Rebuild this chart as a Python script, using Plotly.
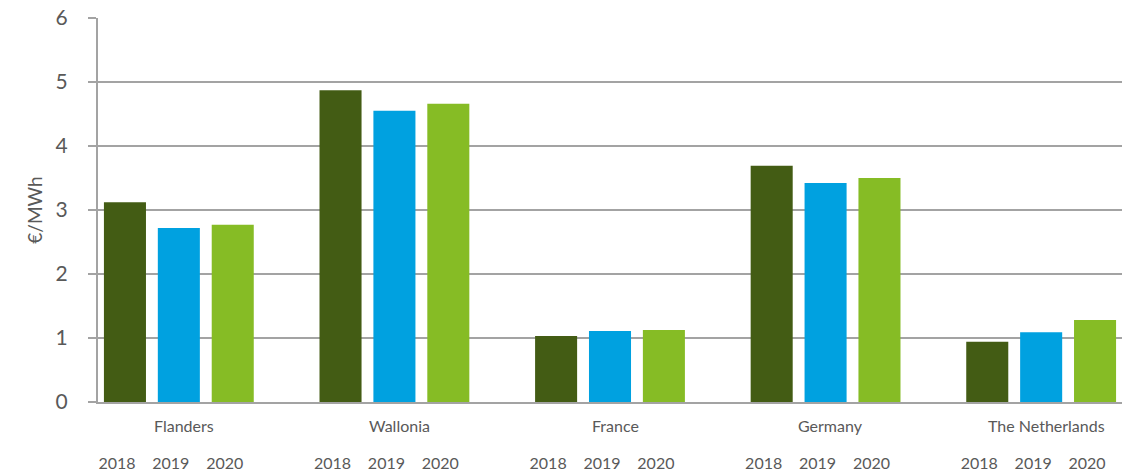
import plotly.graph_objects as go

countries = ["Flanders", "Wallonia", "France", "Germany", "The Netherlands"]
years = ["2018", "2019", "2020"]
values_2018 = [3.12, 4.87, 1.03, 3.69, 0.94]
values_2019 = [2.72, 4.55, 1.11, 3.42, 1.09]
values_2020 = [2.77, 4.66, 1.125, 3.50, 1.28]
colors = ["#435C14", "#00A1E0", "#86BC25"]

series = [values_2018, values_2019, values_2020]
slot = len(years) + 1  # one empty slot between country groups

xs, ys, cs, tv, tt = [], [], [], [], []
for gi, c in enumerate(countries):
    for yi, yr in enumerate(years):
        pos = gi * slot + yi
        xs.append(pos)
        ys.append(series[yi][gi])
        cs.append(colors[yi])
        tv.append(pos)
        tt.append(yr)

fig = go.Figure(go.Bar(x=xs, y=ys, marker=dict(color=cs, line=dict(width=0)),
                       showlegend=False, hoverinfo="skip"))

txt = "#595959"
font = "Lato, 'Open Sans', sans-serif"
grid = "#A3A3A3"

for gi, c in enumerate(countries):
    fig.add_annotation(x=gi * slot + 1, y=0, xref="x", yref="paper", text=c,
                       showarrow=False, yanchor="middle", yshift=-23, xshift=5,
                       font=dict(size=16, color=txt, family=font))

n_slots = len(countries) * slot - 1
fig.update_layout(
    width=1126, height=464,
    margin=dict(l=90, r=12, t=10, b=70),
    plot_bgcolor="white", paper_bgcolor="white",
    bargap=0.22,
    font=dict(family=font, color=txt),
    xaxis=dict(range=[-0.5, n_slots - 0.5], tickvals=tv, ticktext=tt,
               ticks="", showgrid=False, zeroline=False, automargin=False,
               showline=True, linecolor=grid, linewidth=2,
               tickfont=dict(size=16, color=txt), ticklabeloverflow="allow",
               ticklabelstandoff=46, ticklabelshift=-8),
    yaxis=dict(range=[0, 6], dtick=1, showgrid=True, gridcolor=grid, gridwidth=2,
               zeroline=False, showline=True, linecolor=grid, linewidth=2,
               automargin=False, ticklabeloverflow="allow",
               ticks="outside", ticklen=8, tickcolor=grid, tickwidth=2,
               tickfont=dict(size=21, color=txt), ticklabelstandoff=16,
               title=dict(text="€/MWh", font=dict(size=19, color=txt), standoff=8)),
)

fig.write_html("out.html")
